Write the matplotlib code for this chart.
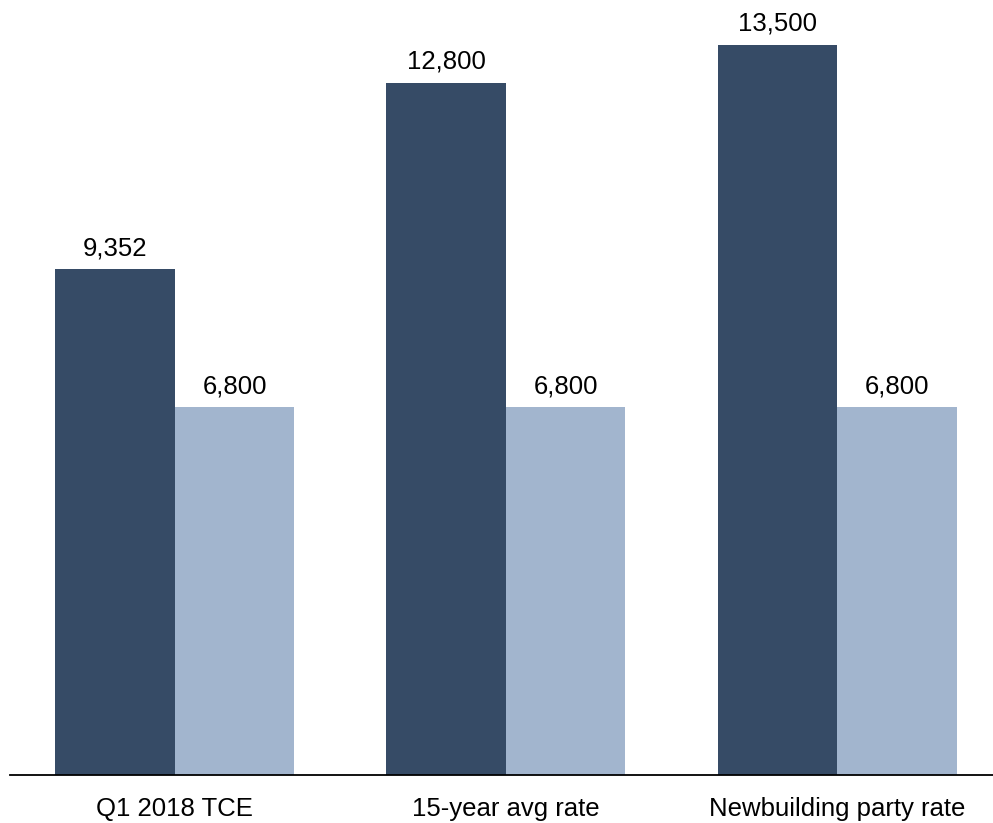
import matplotlib.pyplot as plt
import numpy as np

plt.rcParams['font.family'] = ['Liberation Sans', 'DejaVu Sans']

categories = ["Q1 2018 TCE", "15-year avg rate", "Newbuilding party rate"]
dark_values = [9352, 12800, 13500]
light_values = [6800, 6800, 6800]

dark_color = "#364B66"
light_color = "#A2B5CE"

fig = plt.figure(figsize=(9.93, 8.23), dpi=100)
ax = fig.add_axes([10 / 993, 48 / 823, 983 / 993, 775 / 823])

x = np.arange(len(categories))
w = 0.361
b1 = ax.bar(x - w / 2, dark_values, w, color=dark_color)
b2 = ax.bar(x + w / 2, light_values, w, color=light_color)

# value labels above each bar
for bars in (b1, b2):
    ax.bar_label(bars, labels=[f"{v:,.0f}" for v in bars.datavalues],
                 padding=6.5, fontsize=18.5)

ax.set_xlim(-0.498, 2.471)
ax.set_ylim(0, 14331)
ax.set_xticks(x)
ax.set_xticklabels(categories, fontsize=18.5)
ax.tick_params(axis='x', length=0, pad=15.5)
ax.set_yticks([])

for side in ("top", "right", "left"):
    ax.spines[side].set_visible(False)
ax.spines["bottom"].set_linewidth(1.3)
ax.spines["bottom"].set_color("black")

fig.savefig("out.png", dpi=100)
